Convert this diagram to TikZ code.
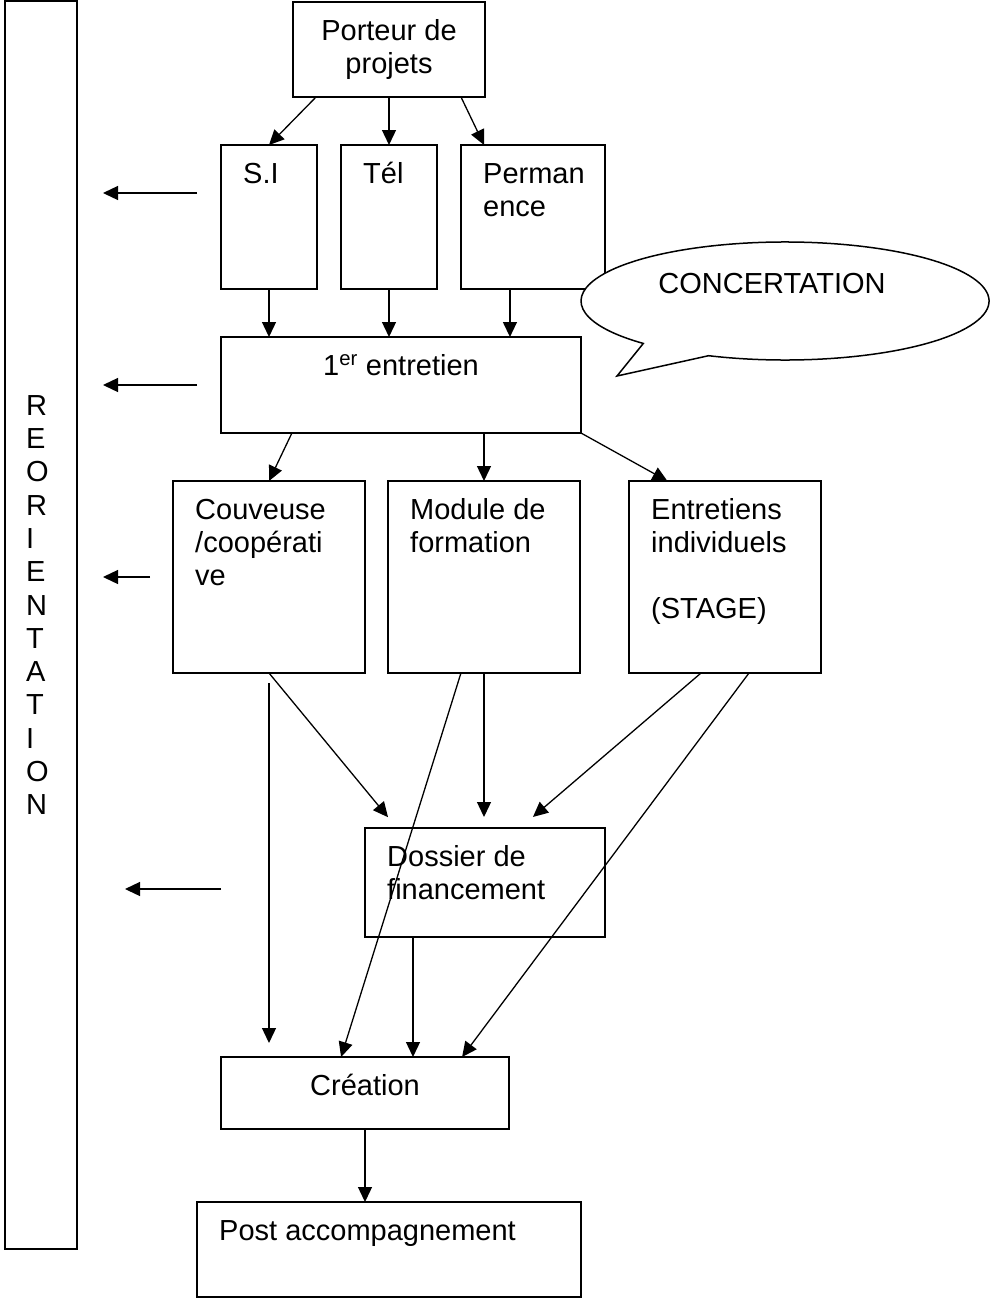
\documentclass[tikz,border=0pt]{standalone}
\usepackage{fontspec}
\setmainfont{Liberation Sans}
\usetikzlibrary{arrows.meta,calc}

\begin{document}
\begin{tikzpicture}[x=1pt,y=-1pt,
  every node/.style={font=\fontsize{29pt}{33.3pt}\selectfont},
  boite/.style={draw, line width=1.5pt, inner sep=0pt, outer sep=0pt},
  lbl/.style={anchor=north west, inner sep=0pt, align=left, xshift=22pt, yshift=-14.5pt},
  lblc/.style={anchor=north, inner sep=0pt, align=center, yshift=-14.5pt},
  fleche/.style={-{Triangle[length=15pt,width=14pt]}, line width=1.3pt}]
  \useasboundingbox (0,0) rectangle (990,1299);

  % colonne de gauche
  \node[boite, minimum width=72pt, minimum height=1248pt] (reorient) at (41,625) {};
  \node[anchor=north west, inner sep=0pt, align=left] (lettres) at (26,391.7)
    {\strut R\\E\\O\\R\\I\\E\\N\\T\\A\\T\\I\\O\\N};

  % les boites
  \node[boite, minimum width=192pt, minimum height=95pt,
    label={[lblc]north:{\strut Porteur de\\projets}}] (porteur) at (389,49.5) {};
  \node[boite, minimum width=96pt, minimum height=144pt,
    label={[lbl]north west:{\strut S.I}}] (si) at (269,217) {};
  \node[boite, minimum width=96pt, minimum height=144pt,
    label={[lbl]north west:{\strut Tél}}] (tel) at (389,217) {};
  \node[boite, minimum width=144pt, minimum height=144pt,
    label={[lbl]north west:{\strut Perman\\ence}}] (perm) at (533,217) {};
  \node[boite, minimum width=360pt, minimum height=96pt,
    label={[lblc]north:{\strut 1\textsuperscript{er} entretien}}] (entretien) at (401,385) {};
  \node[boite, minimum width=192pt, minimum height=192pt,
    label={[lbl]north west:{\strut Couveuse\\/coopérati\\ve}}] (couv) at (269,577) {};
  \node[boite, minimum width=192pt, minimum height=192pt,
    label={[lbl]north west:{\strut Module de\\formation}}] (module) at (484,577) {};
  \node[boite, minimum width=192pt, minimum height=192pt,
    label={[lbl]north west:{\strut Entretiens\\individuels\\ \mbox{}\\(STAGE)}}] (stage) at (725,577) {};
  \node[boite, minimum width=240pt, minimum height=109pt,
    label={[lbl]north west:{\strut Dossier de\\financement}}] (dossier) at (485,882.5) {};
  \node[boite, minimum width=288pt, minimum height=72pt,
    label={[lblc]north:{\strut Création}}] (creation) at (365,1093) {};
  \node[boite, minimum width=384pt, minimum height=95pt,
    label={[lbl]north west:{\strut Post accompagnement}}] (post) at (389,1249.5) {};

  % bulle
  \draw[line width=1.5pt, fill=white] (708.6,355.7)
    arc[start angle=112, end angle=-226, x radius=204, y radius=59] -- (617,376) -- cycle;
  \node[anchor=base, inner sep=0pt] (concert) at (772,293) {CONCERTATION};

  % points d'attache
  \coordinate (p1) at ($(perm.south west)!0.34!(perm.south east)$);
  \coordinate (d1) at ($(dossier.south west)!0.2!(dossier.south east)$);

  % fleches
  \draw[fleche] ($(porteur.south west)!0.12!(porteur.south east)$) -- (si.north);
  \draw[fleche] (porteur.south) -- (tel.north);
  \draw[fleche] ($(porteur.south west)!0.875!(porteur.south east)$) -- ($(perm.north west)!0.16!(perm.north east)$);
  \draw[fleche] (si.south) -- (si.south |- entretien.north);
  \draw[fleche] (tel.south) -- (tel.south |- entretien.north);
  \draw[fleche] (p1) -- (p1 |- entretien.north);
  \draw[fleche] ($(entretien.south west)!0.197!(entretien.south east)$) -- (couv.north);
  \draw[fleche] (module.north |- entretien.south) -- (module.north);
  \draw[fleche] (entretien.south east) -- ($(stage.north west)!0.2!(stage.north east)$);

  \draw[fleche, shorten >=14pt] ([yshift=-10pt]couv.south) -- (couv.south |- creation.north);
  \draw[fleche, shorten >=14pt] (couv.south) -- ($(dossier.north west)!0.133!(dossier.north east)$);
  \draw[fleche, shorten >=11pt] (module.south) -- (module.south |- dossier.north);
  \draw[fleche, shorten >=17pt] ($(stage.south west)!0.375!(stage.south east)$) -- ($(dossier.north west)!0.646!(dossier.north east)$);
  \draw[fleche] ($(module.south west)!0.38!(module.south east)$) -- ($(creation.north west)!0.417!(creation.north east)$);
  \draw[fleche] ($(stage.south west)!0.625!(stage.south east)$) -- ($(creation.north west)!0.837!(creation.north east)$);
  \draw[fleche] (d1) -- (d1 |- creation.north);
  \draw[fleche] (creation.south) -- (creation.south |- post.north);

  % retours vers la reorientation
  \coordinate (r1s) at (197,193);   \coordinate (r1e) at (103,193);
  \coordinate (r2s) at (197,385);   \coordinate (r2e) at (103,385);
  \coordinate (r3s) at (150,577);   \coordinate (r3e) at (103,577);
  \coordinate (r4s) at (221,889);   \coordinate (r4e) at (125,889);
  \draw[fleche] (r1s) -- (r1e);
  \draw[fleche] (r2s) -- (r2e);
  \draw[fleche] (r3s) -- (r3e);
  \draw[fleche] (r4s) -- (r4e);
\end{tikzpicture}
\end{document}
